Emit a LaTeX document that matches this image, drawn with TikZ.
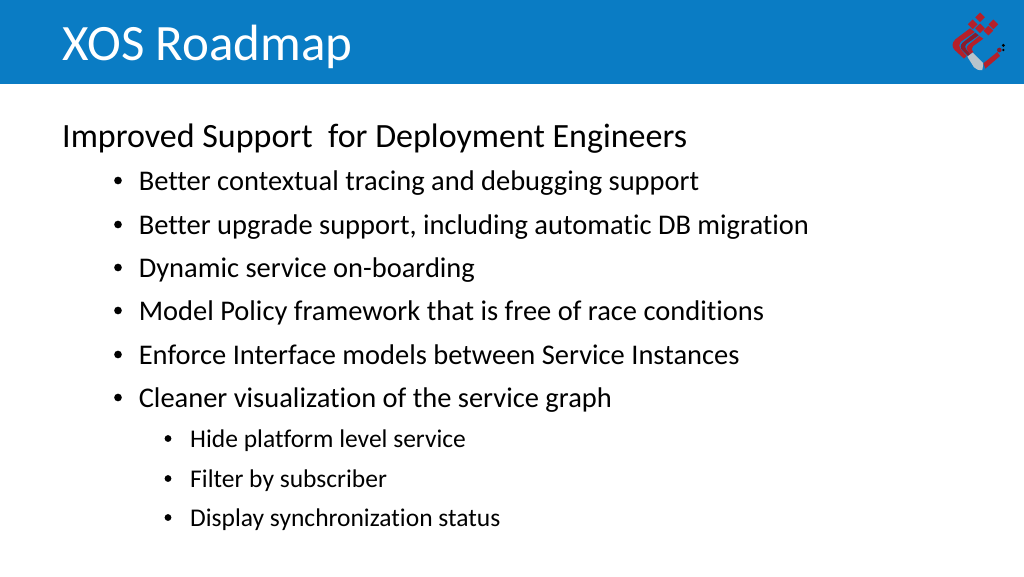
\documentclass[tikz,border=0pt]{standalone}
\usepackage{fontspec}
\setmainfont{Carlito}[Ligatures=CommonOff]
\definecolor{bandblue}{HTML}{0A7CC4}
\definecolor{logored}{HTML}{B5202A}
\definecolor{logodark}{HTML}{8A1C2C}
\definecolor{logogrey}{HTML}{B8C4CC}
\tikzset{
    line/.style = {anchor=base west, inner sep=0pt, font=\fontsize{26.8}{32}\selectfont},
    subline/.style = {anchor=base west, inner sep=0pt, font=\fontsize{24}{29}\selectfont},
    dot/.style = {circle, fill=black, inner sep=0pt, minimum size=7.2bp},
    subdot/.style = {circle, fill=black, inner sep=0pt, minimum size=6.4bp},
    tile/.style = {fill=logored, rotate=45, inner sep=0pt, minimum size=6.4bp}
}
\begin{document}
\begin{tikzpicture}[x=0.9375bp, y=-0.9375bp]
    \useasboundingbox (0,0) rectangle (1024,576);
    \fill[white] (0,0) rectangle (1024,576);
    \fill[bandblue] (0,0) rectangle (1024,84);
    \node[anchor=base west, inner sep=0pt, text=white, font=\fontsize{48}{58}\selectfont] (title) at (62,60) {XOS Roadmap};
    \node[anchor=base west, inner sep=0pt, font=\fontsize{32}{38}\selectfont] (heading) at (62,147) {Improved Support\ \ for Deployment Engineers};

    \foreach \name/\ypos/\words in {
        trace/190/Better contextual tracing and debugging support,
        upgrade/234/{Better upgrade support, including automatic DB migration},
        onboard/277/Dynamic service on-boarding,
        policy/320/Model Policy framework that is free of race conditions,
        iface/364/Enforce Interface models between Service Instances,
        graph/407/Cleaner visualization of the service graph} {
        \node[dot] (dot\name) at (118,\ypos-9.5) {};
        \node[line] (\name) at (138.6,\ypos) {\words};
    }
    \foreach \name/\ypos/\words in {
        hide/447/Hide platform level service,
        filter/487/Filter by subscriber,
        status/526/Display synchronization status} {
        \node[subdot] (dot\name) at (168,\ypos-8.5) {};
        \node[subline] (\name) at (190,\ypos) {\words};
    }

    % logo
    \begin{scope}[shift={(930,0)}, x=0.3125bp, y=-0.3125bp]
        \node[tile] (tilea) at (150,52) {};
        \node[tile] (tileb) at (128,73) {};
        \node[tile] (tilec) at (190,73) {};
        \node[tile] (tiled) at (150,85) {};
        \node[tile] (tilee) at (175,92) {};
        \fill[logored] (120,85) -- (76,118) .. controls (64,130) and (66,142) .. (74,150) -- (102,176) -- (110,168) -- (94,150) .. controls (86,140) and (86,132) .. (94,124) -- (134,96) -- cycle;
        \fill[logodark] (136,98) -- (98,128) .. controls (90,136) and (90,144) .. (98,152) -- (114,168) -- (120,162) -- (110,150) .. controls (104,142) and (104,136) .. (112,130) -- (146,106) -- cycle;
        \fill[logored] (148,108) -- (116,134) .. controls (108,142) and (108,148) .. (114,154) -- (122,162) -- (130,156) .. controls (124,148) and (124,144) .. (130,138) -- (160,116) -- cycle;
        \fill[logogrey] (112,170) -- (128,158) -- (160,190) -- (157,210) .. controls (146,212) and (138,208) .. (132,202) -- cycle;
        \fill[logored] (160,190) -- (202,156) -- (210,168) -- (166,206) -- cycle;
        \fill[logodark] (208,150) circle (7);
        \fill[black] (220,136) circle (5);
        \fill[black] (220,150) circle (4);
    \end{scope}
\end{tikzpicture}
\end{document}
